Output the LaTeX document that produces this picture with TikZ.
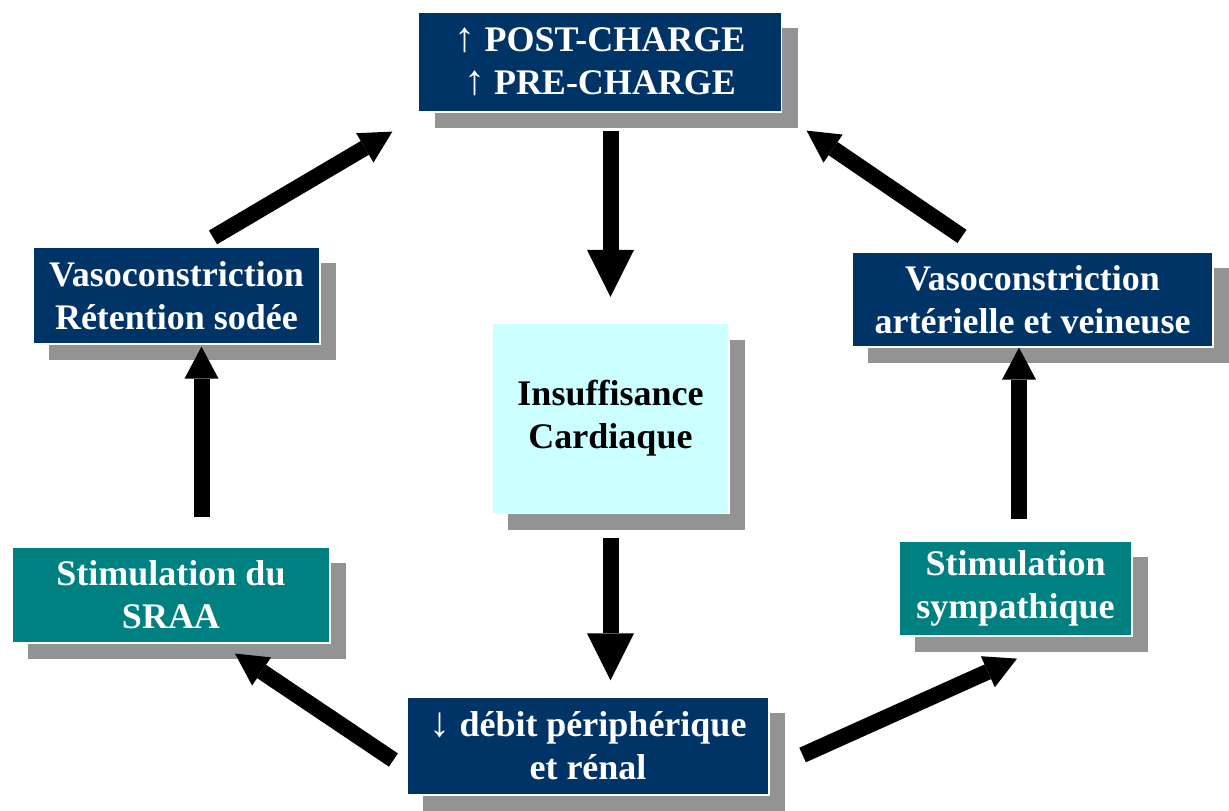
\documentclass[tikz,border=0pt]{standalone}
\usepackage{fontspec}
\setmainfont{Liberation Serif}
\usepackage{tikz}
\usetikzlibrary{arrows.meta, shadows, calc}
\definecolor{bleufonce}{HTML}{003366}
\definecolor{sarcelle}{HTML}{008080}
\definecolor{cyanclair}{HTML}{CCFFFF}
\definecolor{ombre}{HTML}{939393}
\newcommand{\sens}[1]{{\fontsize{21}{21.5}\selectfont\mdseries #1}}
\tikzstyle{boite} = [rectangle, draw=white, line width=0.6pt, align=center, inner sep=0pt, font=\fontsize{18}{21.5}\selectfont\bfseries, drop shadow={fill=ombre, opacity=1, shadow xshift=8pt, shadow yshift=-8pt}]
\tikzstyle{bleu} = [boite, fill=bleufonce, text=white]
\tikzstyle{vert} = [boite, fill=sarcelle, text=white]
\tikzstyle{centre} = [boite, fill=cyanclair, text=black]
\tikzstyle{fleche} = [line width=8pt, -{Triangle[length=23.5pt, width=23.5pt, line width=0pt]}]
\tikzstyle{petitefleche} = [line width=8pt, -{Triangle[length=16pt, width=17pt, line width=0pt]}]

\begin{document}
\begin{tikzpicture}[x=0.5pt, y=0.5pt]
\useasboundingbox (0,0) rectangle (1229,-810);

\node (haut)	[bleu, minimum width=181.5pt, minimum height=50pt] at (600,-62)		{\sens{↑} POST-CHARGE\\\sens{↑} PRE-CHARGE};
\node (insuf)	[centre, minimum width=118.5pt, minimum height=95pt] at (610.5,-418.5)	{Insuffisance\\Cardiaque};
\node (vasog)	[bleu, minimum width=143.5pt, minimum height=48.5pt] at (176.5,-295.5)	{Vasoconstriction\\Rétention sodée};
\node (vasod)	[bleu, minimum width=180.5pt, minimum height=47.5pt] at (1032.5,-299.5)	{Vasoconstriction\\artérielle et veineuse};
\node (sraa)	[vert, minimum width=159pt, minimum height=48pt] at (171,-595)		{Stimulation du\\SRAA};
\node (symp)	[vert, minimum width=116.5pt, minimum height=47.5pt] at (1015.5,-588.5)	{Stimulation\\sympathique};
\node (debit)	[bleu, minimum width=181pt, minimum height=49pt] at (588,-746)		{\sens{↓} débit périphérique\\et rénal};

\draw [fleche, shorten <=9pt, shorten >=13pt] (insuf.north |- haut.south) -- (insuf.north);
\draw [fleche, shorten <=12pt, shorten >=8pt] (insuf.south) -- (insuf.south |- debit.north);
\draw [petitefleche] ($(debit.west)+(-13,-14)$) -- ($(sraa.south)+(64,-10)$);
\draw [petitefleche] ($(sraa.north)+(30.5,29)$) -- ($(vasog.south)+(25,-2)$);
\draw [petitefleche] ($(vasog.north)+(36.5,9)$) -- ($(haut.south west)+(-25.5,-19)$);
\draw [petitefleche] ($(debit.east)+(33,-9)$) -- ($(symp.south)+(1.5,-22)$);
\draw [petitefleche] ($(symp.north)+(3.5,21)$) -- ($(vasod.south)+(-13.5,0)$);
\draw [petitefleche] ($(vasod.north)+(-70.5,15)$) -- ($(haut.south east)+(24.5,-18)$);

\end{tikzpicture}
\end{document}
